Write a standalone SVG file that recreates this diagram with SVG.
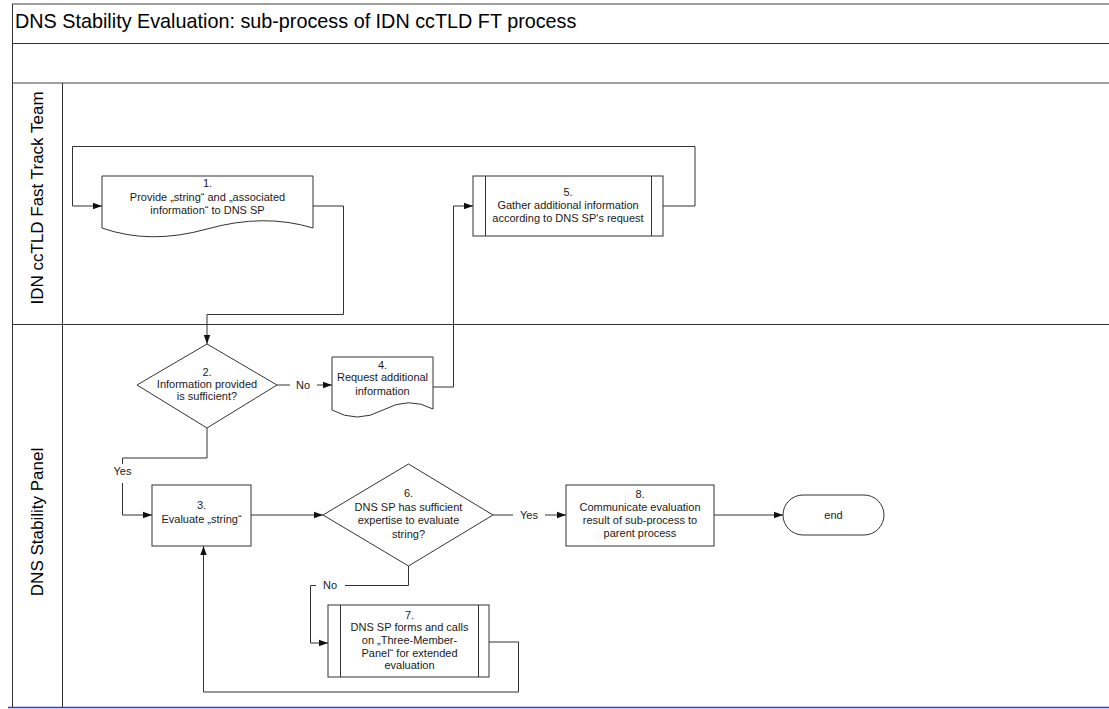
<svg xmlns="http://www.w3.org/2000/svg" width="1109" height="709" viewBox="0 0 1109 709">
<style>
text{font-family:"Liberation Sans",Arial,sans-serif;fill:#1a1a1a}
.t{font-size:11px;text-anchor:middle}
.lane{font-size:17px;text-anchor:middle;fill:#000}
.shape{fill:#fff;stroke:#333;stroke-width:1}
.c{fill:none;stroke:#333;stroke-width:1}
.ca{fill:none;stroke:#333;stroke-width:1;marker-end:url(#arr)}
.frame{stroke:#333;stroke-width:1;fill:none}
.gframe{stroke:#808080;stroke-width:1.5;fill:none}
</style>
<defs>
<marker id="arr" markerUnits="userSpaceOnUse" markerWidth="10" markerHeight="8" refX="9" refY="4" orient="auto">
<path d="M0,0.8 L9,4 L0,7.2 Z" fill="#111"/>
</marker>
</defs>
<rect width="1109" height="709" fill="#fff"/>
<g id="frame">
<line class="gframe" x1="12" y1="4" x2="1109" y2="4"/>
<line class="frame" x1="12" y1="43.5" x2="1109" y2="43.5"/>
<line class="gframe" x1="12" y1="83" x2="1109" y2="83"/>
<line class="frame" x1="12" y1="324.5" x2="1109" y2="324.5"/>
<line class="frame" x1="12.5" y1="4" x2="12.5" y2="707"/>
<line class="frame" x1="62.5" y1="83" x2="62.5" y2="707"/>
<line x1="8" y1="707.5" x2="1109" y2="707.5" stroke="#1f3fff" stroke-width="1.5"/>
<text x="15" y="28" style="font-size:19.8px;fill:#000">DNS Stability Evaluation: sub-process of IDN ccTLD FT process</text>
<text class="lane" transform="translate(43,198) rotate(-90)">IDN ccTLD Fast Track Team</text>
<text class="lane" transform="translate(43,522) rotate(-90)">DNS Stability Panel</text>
</g>
<g id="connectors">
<path class="ca" d="M663,206 H695 V146.5 H72.5 V206 H102"/>
<path class="ca" d="M313,206 H343.5 V314.5 H207 V344"/>
<path class="c" d="M277,385 H290"/>
<path class="ca" d="M317,385 H332"/>
<path class="ca" d="M433,387 H453.5 V206 H473"/>
<path class="c" d="M207,428 V458 H122.5 V464"/>
<path class="ca" d="M122.5,483 V515 H152"/>
<path class="ca" d="M251,515 H323"/>
<path class="c" d="M493,515 H513"/>
<path class="ca" d="M545,515 H566"/>
<path class="ca" d="M714,515 H783"/>
<path class="c" d="M408.5,566 V585.5 H345"/>
<path class="ca" d="M316,585.5 H310.5 V643 H328"/>
<path class="ca" d="M489,642 H518.5 V692 H203.5 V546"/>
<text class="t" x="303" y="389">No</text>
<text class="t" x="122.5" y="475">Yes</text>
<text class="t" x="529" y="519">Yes</text>
<text class="t" x="330" y="589">No</text>
</g>
<g id="n1">
<path class="shape" d="M102,176 H313 V228 Q264,213 207,229 Q150,245 102,228 Z"/>
<text class="t" x="207.5" y="187">1.</text>
<text class="t" x="207.5" y="200.5">Provide „string“ and „associated</text>
<text class="t" x="207.5" y="214">information“ to DNS SP</text>
</g>
<g id="n2">
<path class="shape" d="M207,344 L277,385 L207,428 L137,385 Z"/>
<text class="t" x="207" y="375.5">2.</text>
<text class="t" x="207" y="387.5">Information provided</text>
<text class="t" x="207" y="400">is sufficient?</text>
</g>
<g id="n4">
<path class="shape" d="M332,357 H433 V409 Q409,396 383,410 Q357,424 332,410 Z"/>
<text class="t" x="382.5" y="369">4.</text>
<text class="t" x="382.5" y="381">Request additional</text>
<text class="t" x="382.5" y="394.5">information</text>
</g>
<g id="n5">
<rect class="shape" x="473" y="176" width="190" height="60"/>
<line class="c" x1="485.5" y1="176" x2="485.5" y2="236"/>
<line class="c" x1="651.5" y1="176" x2="651.5" y2="236"/>
<text class="t" x="568" y="195.5">5.</text>
<text class="t" x="568" y="209">Gather additional information</text>
<text class="t" x="568" y="221.5">according to DNS SP's request</text>
</g>
<g id="n3">
<rect class="shape" x="152" y="485" width="99" height="61"/>
<text class="t" x="201.5" y="509">3.</text>
<text class="t" x="201.5" y="523">Evaluate „string“</text>
</g>
<g id="n6">
<path class="shape" d="M408.5,464 L493,515 L408.5,566 L323,515 Z"/>
<text class="t" x="408.5" y="497">6.</text>
<text class="t" x="408.5" y="511">DNS SP has sufficient</text>
<text class="t" x="408.5" y="524">expertise to evaluate</text>
<text class="t" x="408.5" y="537.5">string?</text>
</g>
<g id="n8">
<rect class="shape" x="566" y="485" width="148" height="61"/>
<text class="t" x="640" y="497.5">8.</text>
<text class="t" x="640" y="511">Communicate evaluation</text>
<text class="t" x="640" y="524">result of sub-process to</text>
<text class="t" x="640" y="537">parent process</text>
</g>
<g id="end">
<rect class="shape" x="783" y="495" width="101" height="40" rx="20" ry="20"/>
<text class="t" x="833.5" y="519">end</text>
</g>
<g id="n7">
<rect class="shape" x="328" y="605" width="161" height="72"/>
<line class="c" x1="340.5" y1="605" x2="340.5" y2="677"/>
<line class="c" x1="478.5" y1="605" x2="478.5" y2="677"/>
<text class="t" x="409.5" y="619">7.</text>
<text class="t" x="409.5" y="631">DNS SP forms and calls</text>
<text class="t" x="409.5" y="644">on „Three-Member-</text>
<text class="t" x="409.5" y="657">Panel“ for extended</text>
<text class="t" x="409.5" y="669">evaluation</text>
</g>
</svg>
